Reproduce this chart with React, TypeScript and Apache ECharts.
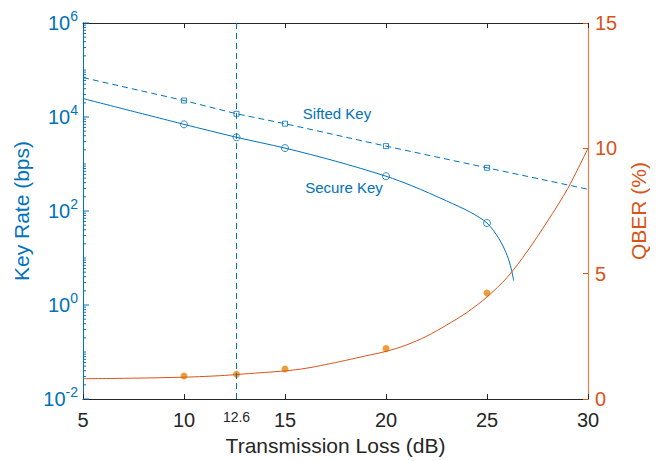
import React, { useEffect, useRef } from "react";
import * as echarts from "echarts";

const BLUE = "#0072BD";
const ORANGE = "#D95319";
const DOT = "#E6870A";
const GRAY = "#262626";
const FONT = "Liberation Sans";

// Transmission loss (dB) and key rates (bps)
const siftedX = [5, 10, 12.6, 15, 20, 25, 30];
const siftedY = [69000, 22400, 11700, 7200, 2400, 830, 290];
const siftedMarkX = [10, 12.6, 15, 20, 25];
const siftedMarkY = [22400, 11700, 7200, 2400, 830];

const secureX = [5, 10, 12.6, 15, 17.5, 20, 21.3, 23, 24.2, 25, 25.6, 26, 26.2, 26.32];
const secureY = [24700, 6980, 3700, 2180, 1150, 550, 341, 164, 93, 55.5, 25.5, 11.3, 5.9, 3.3];
const secureMarkX = [10, 12.6, 15, 20, 25];
const secureMarkY = [6980, 3700, 2180, 550, 55.5];

// QBER (%)
const qberX = [5, 7.5, 10, 11, 12, 13, 14, 15, 16, 17, 18, 19, 20, 21, 22, 23, 24, 25, 26, 27, 28, 29, 30];
const qberY = [0.81, 0.83, 0.87, 0.9, 0.94, 1.0, 1.06, 1.12, 1.22, 1.37, 1.54, 1.72, 1.9, 2.15, 2.5, 2.95, 3.45, 4.07, 4.85, 5.9, 7.1, 8.4, 10];
const qberMarkX = [10, 12.6, 15, 20, 25];
const qberMarkY = [0.92, 0.99, 1.2, 2.01, 4.23];

const xTicks = [5, 10, 15, 20, 25, 30];
const cutoff = 12.6;
const logDecades = [-2, -1, 0, 1, 2, 3, 4, 5];
const logMinor = [2, 3, 4, 5, 6, 7, 8, 9];

const zip = (xs: number[], ys: number[]) => xs.map((x, i) => [x, ys[i]]);

export default function App() {
  const ref = useRef<HTMLDivElement>(null);
  useEffect(() => {
    if (!ref.current) return;
    const chart = echarts.init(ref.current, null, { renderer: "svg" });

    const tickData: number[][] = [];
    logDecades.forEach((e) => {
      const base = Math.pow(10, e);
      tickData.push([5, base, e % 2 === 0 ? 6 : 3]);
      logMinor.forEach((m) => tickData.push([5, m * base, 3]));
    });
    tickData.push([5, 1e6, 6]);

    chart.setOption({
      animation: false,
      grid: { left: 83, right: 70, top: 23, bottom: 60 },
      xAxis: [
        {
          type: "value",
          min: xTicks[0],
          max: xTicks[xTicks.length - 1],
          interval: 5,
          name: "Transmission Loss (dB)",
          nameLocation: "middle",
          nameGap: 36,
          nameTextStyle: { fontFamily: FONT, fontSize: 21, color: GRAY },
          axisLine: { show: true, lineStyle: { color: GRAY, width: 1 } },
          axisTick: { show: true, inside: true, length: 5, lineStyle: { color: GRAY } },
          axisLabel: { fontFamily: FONT, fontSize: 20, color: GRAY, margin: 11 },
          splitLine: { show: false },
        },
        {
          type: "value",
          position: "top",
          min: xTicks[0],
          max: xTicks[xTicks.length - 1],
          interval: 5,
          axisLine: { show: true, lineStyle: { color: GRAY, width: 1 } },
          axisTick: { show: true, inside: true, length: 5, lineStyle: { color: GRAY } },
          axisLabel: { show: false },
          splitLine: { show: false },
        },
      ],
      yAxis: [
        {
          type: "log",
          logBase: 10,
          min: 0.01,
          max: 1e6,
          name: "Key Rate (bps)",
          nameLocation: "middle",
          nameGap: 50,
          nameTextStyle: { fontFamily: FONT, fontSize: 21, color: BLUE },
          axisLine: { show: true, lineStyle: { color: BLUE, width: 1 } },
          axisTick: { show: false },
          splitLine: { show: false },
          axisLabel: {
            margin: 5,
            formatter: (v: number) => {
              const e = Math.round(Math.log10(v));
              if (e % 2 !== 0) return "";
              return `{b|10}{s|${e}}`;
            },
            rich: {
              b: { fontFamily: FONT, fontSize: 20, color: BLUE },
              s: { fontFamily: FONT, fontSize: 14, color: BLUE, padding: [0, 0, 14, 0] },
            },
          },
        },
        {
          type: "value",
          min: 0,
          max: 15,
          interval: 5,
          position: "right",
          name: "QBER (%)",
          nameLocation: "middle",
          nameGap: 38,
          nameTextStyle: { fontFamily: FONT, fontSize: 21, color: ORANGE },
          axisLine: { show: true, lineStyle: { color: "#E47E52", width: 1.2 } },
          axisTick: { show: true, inside: true, length: 5, lineStyle: { color: ORANGE } },
          axisLabel: { fontFamily: FONT, fontSize: 20, color: ORANGE, margin: 7 },
          splitLine: { show: false },
        },
      ],
      graphic: [
        {
          type: "text",
          x: 337,
          y: 113,
          style: { text: "Sifted Key", fontFamily: FONT, fontSize: 15, fill: BLUE, align: "center", verticalAlign: "middle" },
        },
        {
          type: "text",
          x: 344,
          y: 187,
          style: { text: "Secure Key", fontFamily: FONT, fontSize: 15, fill: BLUE, align: "center", verticalAlign: "middle" },
        },
      ],
      series: [
        {
          type: "custom",
          xAxisIndex: 0,
          yAxisIndex: 0,
          silent: true,
          clip: false,
          data: tickData,
          renderItem: (params: any, api: any) => {
            const p = api.coord([api.value(0), api.value(1)]);
            const len = api.value(2);
            return {
              type: "line",
              shape: { x1: p[0], y1: p[1], x2: p[0] + len, y2: p[1] },
              style: { stroke: BLUE, lineWidth: 1 },
            };
          },
        },
        {
          type: "line",
          name: "Sifted",
          xAxisIndex: 0,
          yAxisIndex: 0,
          data: zip(siftedX, siftedY),
          showSymbol: false,
          symbol: "none",
          lineStyle: { color: BLUE, width: 1, type: [6, 4] },
          markLine: {
            silent: true,
            symbol: "none",
            data: [{ xAxis: cutoff }],
            lineStyle: { color: BLUE, width: 1, type: [6, 4] },
            label: {
              show: true,
              position: "start",
              formatter: "12.6",
              fontFamily: FONT,
              fontSize: 14,
              color: GRAY,
              distance: 11,
            },
          },
        },
        {
          type: "line",
          name: "Secure",
          xAxisIndex: 0,
          yAxisIndex: 0,
          data: zip(secureX, secureY),
          symbol: "none",
          smooth: 0.3,
          lineStyle: { color: BLUE, width: 1 },
        },
        {
          type: "line",
          name: "QBERcurve",
          xAxisIndex: 0,
          yAxisIndex: 1,
          data: zip(qberX, qberY),
          symbol: "none",
          smooth: 0.3,
          lineStyle: { color: ORANGE, width: 1 },
        },
        {
          type: "scatter",
          xAxisIndex: 0,
          yAxisIndex: 0,
          data: zip(siftedMarkX, siftedMarkY),
          symbol: "rect",
          symbolSize: 5,
          itemStyle: { color: "#fff", borderColor: BLUE, borderWidth: 1 },
        },
        {
          type: "scatter",
          xAxisIndex: 0,
          yAxisIndex: 0,
          data: zip(secureMarkX, secureMarkY),
          symbol: "circle",
          symbolSize: 7,
          itemStyle: { color: "#fff", borderColor: BLUE, borderWidth: 1 },
        },
        {
          type: "scatter",
          xAxisIndex: 0,
          yAxisIndex: 1,
          data: zip(qberMarkX, qberMarkY),
          symbol: "circle",
          symbolSize: 7,
          itemStyle: { color: DOT },
        },
      ],
    });
    return () => chart.dispose();
  }, []);
  return (
    <div
      ref={ref}
      style={{ position: "fixed", left: 0, top: 0, width: 658, height: 461, background: "#fff" }}
    />
  );
}
